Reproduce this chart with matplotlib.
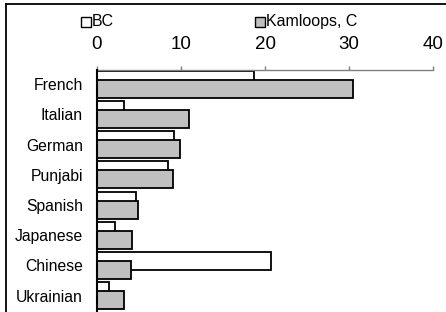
import matplotlib
matplotlib.use("Agg")
import matplotlib.pyplot as plt
from matplotlib.patches import Rectangle
from matplotlib.lines import Line2D
import numpy as np

plt.rcParams['font.family'] = ['Liberation Sans', 'DejaVu Sans']

languages = ["French", "Italian", "German", "Punjabi", "Spanish", "Japanese", "Chinese", "Ukrainian"]
bc = [18.7, 3.2, 9.2, 8.4, 4.7, 2.1, 20.7, 1.4]
kamloops = [30.5, 11.0, 9.9, 9.0, 4.9, 4.2, 4.1, 3.2]
series_names = ["BC", "Kamloops, C"]
xticks = [0, 10, 20, 30, 40]

W, H = 446, 312
fig = plt.figure(figsize=(W/100, H/100), dpi=100)
fig.patch.set_facecolor("white")

# axes: x=0 at px 97, x=40 at px 433, top axis line at px 70, runs off the bottom
ax = fig.add_axes([97/W, 0, (433-97)/W, (312-70)/H])
y = np.arange(len(languages))
ax.barh(y-0.149, bc, height=0.596, color="white", edgecolor="black", lw=1.3, zorder=2)
ax.barh(y+0.149, kamloops, height=0.596, color="#c0c0c0", edgecolor="black", lw=1.3, zorder=3)
ax.set_xlim(0, 40)
ax.set_ylim(7.54, -0.473)

ax.xaxis.tick_top()
ax.set_xticks(xticks)
ax.tick_params(axis="x", direction="out", length=3, width=1, color="#808080",
               labelsize=13.5, pad=9.5)
ax.set_yticks(y)
ax.set_yticklabels(languages)
ax.tick_params(axis="y", length=0, labelsize=11.3, pad=10)
for s in ["right", "bottom"]:
    ax.spines[s].set_visible(False)
ax.spines["top"].set_color("#808080")
ax.spines["top"].set_linewidth(1)
ax.spines["left"].set_color("black")
ax.spines["left"].set_linewidth(1.5)
ax.spines["left"].set_zorder(5)

# legend drawn by hand above the ticks
fc = ["white", "#c0c0c0"]
lx = [81, 255]
for name, c, x0 in zip(series_names, fc, lx):
    fig.patches.append(Rectangle((x0/W, 1-26.5/H), 9.5/W, 9.5/H, transform=fig.transFigure,
                                 facecolor=c, edgecolor="black", lw=1))
    fig.text((x0+11)/W, 1-21.5/H, name, fontsize=11.5, va="center", ha="left")

# outer frame (top and left edges visible)
fig.add_artist(Line2D([5.5/W, 1], [1-4/H, 1-4/H], color="black", lw=1.3, transform=fig.transFigure))
fig.add_artist(Line2D([5.5/W, 5.5/W], [0, 1-4/H], color="black", lw=1.3, transform=fig.transFigure))

fig.savefig("out.png", dpi=100, facecolor="white")
